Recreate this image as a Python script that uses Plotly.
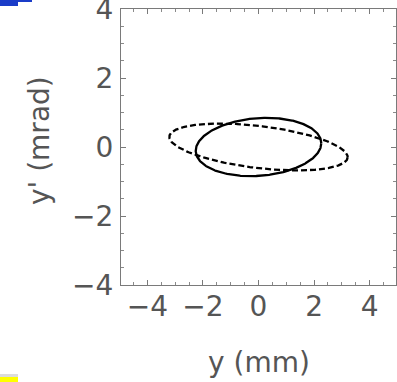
import numpy as np
import plotly.graph_objects as go

# Ellipse parameters (phase-space ellipses)
ellipse_names = ["solid", "dashed"]
y_half_width = [2.26, 3.21]     # max |y| (mm)
yp_half_width = [0.845, 0.68]   # max |y'| (mrad)
correlation = [0.13, -0.43]     # y'(at y max) / y'max
line_dash = ["solid", "6px,3px"]

x_ticks = [-4, -2, 0, 2, 4]
y_ticks = [-4, -2, 0, 2, 4]
x_title = "y (mm)"
y_title = "y' (mrad)"

W, H = 397, 382
L, R, T, B = 121, 1, 9, 97
PW, PH = W - L - R, H - T - B

def px(x):
    return (x - L) / PW

def py(y):
    return 1 - (y - T) / PH

fig = go.Figure()
t = np.linspace(0, 2 * np.pi, 400)
for name, a, b, c, d in zip(ellipse_names, y_half_width, yp_half_width, correlation, line_dash):
    phi = np.arccos(c)
    fig.add_trace(go.Scatter(
        x=a * np.cos(t), y=b * np.cos(t + phi), mode="lines", name=name,
        line=dict(color="black", width=2.3, dash=d), showlegend=False,
        hoverinfo="skip"))

font = dict(family="DejaVu Sans", size=28, color="#555555")
axis_common = dict(
    showgrid=False, zeroline=False, showline=True, linecolor="#7a7a7a", linewidth=1,
    mirror="allticks", ticks="inside", ticklen=5, tickcolor="#7a7a7a", tickwidth=1,
    minor=dict(ticks="inside", dtick=0.5, ticklen=3, tickcolor="#8a8a8a", tickwidth=1, showgrid=False),
    tickfont=font, ticklabeloverflow="allow",
)

fig.update_xaxes(range=[-4.95, 4.95], tickmode="array", tickvals=x_ticks,
                 ticklabelstandoff=-4, **axis_common)
fig.update_yaxes(range=[-4, 4], tickmode="array", tickvals=y_ticks,
                 ticklabelstandoff=1, **axis_common)

fig.add_annotation(text=x_title, xref="paper", yref="paper", x=px(259), y=py(362),
                   showarrow=False, font=font, xanchor="center", yanchor="middle")
fig.add_annotation(text=y_title, xref="paper", yref="paper", x=px(39), y=py(141),
                   showarrow=False, font=font, textangle=-90, xanchor="center", yanchor="middle")

# decorative crop remnants at the corners
shapes = [
    dict(x0=px(0), x1=px(18), y0=py(0), y1=py(6), fill="#1a3cc8"),
    dict(x0=px(18), x1=px(32), y0=py(0), y1=py(2), fill="#1a3cc8"),
    dict(x0=px(0), x1=px(18), y0=py(374), y1=py(377), fill="#dcdcdc"),
    dict(x0=px(0), x1=px(18), y0=py(377), y1=py(382), fill="#ffff00"),
]
for s in shapes:
    fig.add_shape(type="rect", xref="paper", yref="paper", x0=s["x0"], x1=s["x1"],
                  y0=s["y0"], y1=s["y1"], fillcolor=s["fill"], line=dict(width=0), layer="above")

fig.update_layout(
    width=W, height=H, margin=dict(l=L, r=R, t=T, b=B, autoexpand=False),
    paper_bgcolor="white", plot_bgcolor="white", showlegend=False,
)

fig.write_html("out.html")
